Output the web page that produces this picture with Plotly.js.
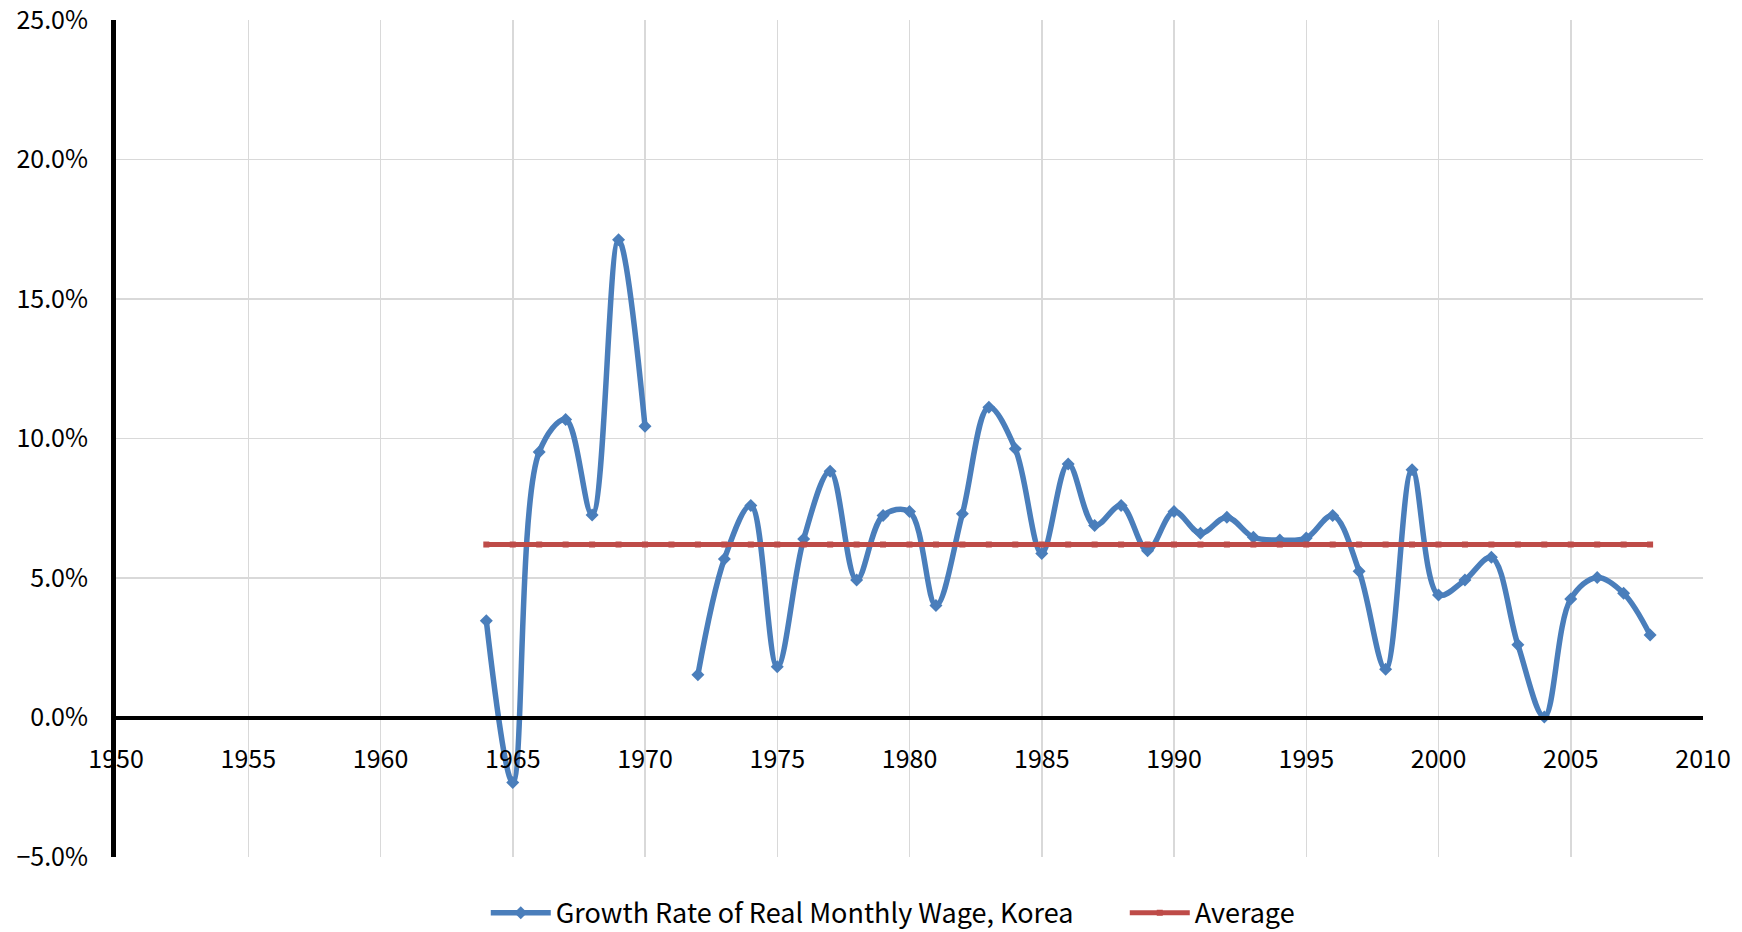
<!DOCTYPE html>
<html>
<head>
<meta charset="utf-8">
<script src="https://cdn.plot.ly/plotly-3.0.1.min.js"></script>
<style>html,body{margin:0;padding:0;background:#fff;}#chart{width:1742px;height:932px;}</style>
</head>
<body>
<div id="chart"></div>
<script>
const years = [1964,1965,1966,1967,1968,1969,1970,1971,1972,1973,1974,1975,1976,1977,1978,1979,1980,1981,1982,1983,1984,1985,1986,1987,1988,1989,1990,1991,1992,1993,1994,1995,1996,1997,1998,1999,2000,2001,2002,2003,2004,2005,2006,2007,2008];
const wageGrowth = [3.47,-2.33,9.52,10.68,7.26,17.12,10.44,null,1.53,5.68,7.60,1.82,6.40,8.83,4.93,7.24,7.38,4.01,7.30,11.12,9.63,5.88,9.09,6.88,7.60,5.98,7.38,6.60,7.18,6.46,6.36,6.43,7.24,5.24,1.73,8.88,4.39,4.93,5.74,2.61,0.02,4.25,5.02,4.45,2.96];
const averageValue = 6.2;
const averageSeries = years.map(() => averageValue);
const seriesNames = ["Growth Rate of Real Monthly Wage, Korea", "Average"];

const FONT = "'Noto Sans CJK KR', 'Noto Sans', sans-serif";

const traces = [
  {
    x: years, y: wageGrowth, name: seriesNames[0], type: 'scatter', mode: 'lines+markers',
    connectgaps: false,
    line: {color: '#4A7EBB', width: 5.5, shape: 'spline', smoothing: 1},
    marker: {symbol: 'diamond', size: 10, color: '#4A7EBB'}
  },
  {
    x: years, y: averageSeries, name: seriesNames[1], type: 'scatter', mode: 'lines+markers',
    line: {color: '#BE4B48', width: 5},
    marker: {symbol: 'square', size: 6, color: '#BE4B48'}
  }
];

const layout = {
  width: 1742, height: 932,
  margin: {l: 116, r: 39, t: 20, b: 75, autoexpand: false},
  paper_bgcolor: '#fff', plot_bgcolor: '#fff',
  font: {family: FONT, size: 25, color: '#000'},
  showlegend: true,
  legend: {orientation: 'h', x: 0.233, xanchor: 'left', y: -0.067, yanchor: 'middle',
           entrywidth: 564, entrywidthmode: 'pixels',
           font: {family: FONT, size: 27, color: '#000'}, itemwidth: 60},
  xaxis: {
    range: [1950, 2010], dtick: 5, tick0: 1950,
    anchor: 'free', position: 1/6,
    showline: true, linecolor: '#000', linewidth: 4.5,
    showgrid: true, gridcolor: '#D9D9D9', gridwidth: 1.5,
    zeroline: false, ticks: '', ticklabelstandoff: 18, ticklabeloverflow: 'allow',
    tickfont: {family: FONT, size: 25, color: '#000'}
  },
  yaxis: {
    range: [-5, 25], dtick: 5, tick0: -5,
    tickformat: '.1f', ticksuffix: '%',
    showline: true, linecolor: '#000', linewidth: 5,
    showgrid: true, gridcolor: '#D9D9D9', gridwidth: 1.5,
    zeroline: false, ticks: '', ticklabelstandoff: 18, ticklabeloverflow: 'allow',
    tickfont: {family: FONT, size: 25, color: '#000'}
  }
};

Plotly.newPlot('chart', traces, layout, {displayModeBar: false, staticPlot: true});
</script>
</body>
</html>
